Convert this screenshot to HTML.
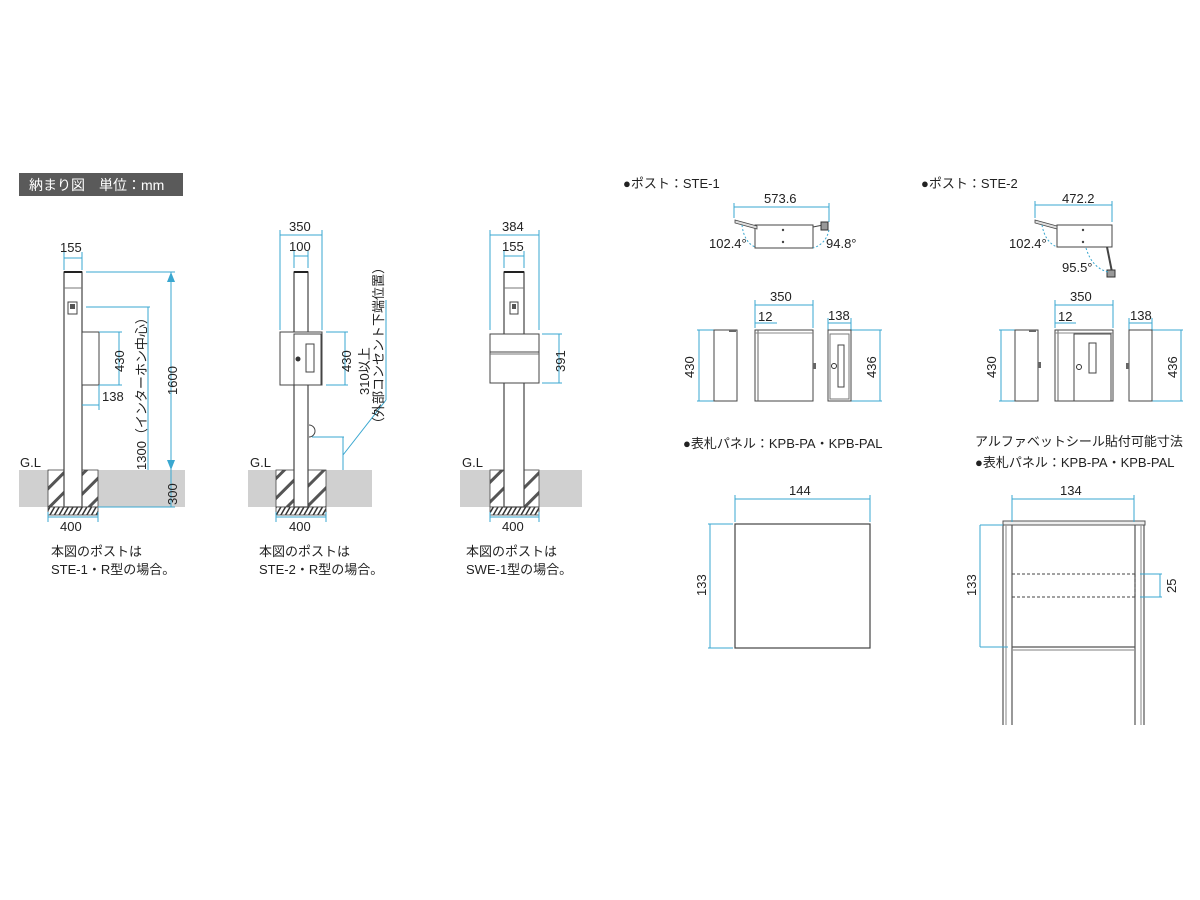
<!DOCTYPE html>
<html><head><meta charset="utf-8"><style>
html,body{margin:0;padding:0;background:#fff;}
svg{display:block;font-family:"Liberation Sans","Noto Sans CJK JP",sans-serif;}
</style></head><body>
<svg width="1200" height="900" viewBox="0 0 1200 900" xmlns="http://www.w3.org/2000/svg">
<defs>
<pattern id="h" width="14" height="14" patternUnits="userSpaceOnUse" patternTransform="rotate(45)">
<rect width="14" height="14" fill="#fff"/><rect x="0" width="3" height="14" fill="#555"/></pattern>
<pattern id="hb" width="4" height="8" patternUnits="userSpaceOnUse" patternTransform="rotate(30)">
<rect width="4" height="8" fill="#fff"/><rect width="1.5" height="8" fill="#333"/></pattern>
</defs>
<g font-size="13" fill="#222">
<!-- title -->
<rect x="19" y="173" width="164" height="23" fill="#5a5a5a"/>
<text x="29" y="190" fill="#fff" font-size="14">納まり図　単位：mm</text>

<!-- ============ POST 1 ============ -->
<rect x="19" y="470" width="166" height="37" fill="#d0d0d0"/>
<rect x="48" y="470" width="50" height="37" fill="url(#h)" stroke="#444" stroke-width="0.8"/>
<rect x="48" y="507" width="50" height="8" fill="url(#hb)" stroke="#444" stroke-width="0.8"/>
<rect x="64" y="272" width="18" height="235" fill="#fff" stroke="#444" stroke-width="1.2"/>
<line x1="64" y1="272" x2="82" y2="272" stroke="#222" stroke-width="2"/>
<line x1="64" y1="288" x2="82" y2="288" stroke="#777"/>
<rect x="68" y="302" width="9" height="12" fill="#fff" stroke="#444"/>
<rect x="70" y="304" width="5" height="5" fill="#555"/>
<rect x="82" y="332" width="17" height="53" fill="#fff" stroke="#444"/>
<text x="20" y="467">G.L</text>
<g stroke="#3aa7d0" fill="none" stroke-width="1">
<line x1="64" y1="258" x2="82" y2="258"/><line x1="64" y1="252" x2="64" y2="270"/><line x1="82" y1="252" x2="82" y2="270"/>
<line x1="86" y1="272" x2="175" y2="272"/><line x1="171" y1="272" x2="171" y2="507"/>
<line x1="86" y1="307" x2="150" y2="307"/><line x1="148" y1="307" x2="148" y2="470"/>
<line x1="99" y1="332" x2="122" y2="332"/><line x1="99" y1="385" x2="122" y2="385"/><line x1="119" y1="332" x2="119" y2="385"/>
<line x1="82" y1="405" x2="99" y2="405"/><line x1="99" y1="385" x2="99" y2="410"/>
<line x1="98" y1="507" x2="175" y2="507"/>
<line x1="48" y1="517" x2="98" y2="517"/><line x1="48" y1="512" x2="48" y2="522"/><line x1="98" y1="512" x2="98" y2="522"/>
</g>
<polygon points="171,272 167,282 175,282" fill="#3aa7d0"/>
<polygon points="171,470 167,460 175,460" fill="#3aa7d0"/>
<text x="60" y="252">155</text>
<text x="102" y="401">138</text>
<text transform="translate(124,372) rotate(-90)">430</text>
<text transform="translate(146,470) rotate(-90)">1300（インターホン中心）</text>
<text transform="translate(177,395) rotate(-90)">1600</text>
<text transform="translate(177,505) rotate(-90)">300</text>
<text x="60" y="531">400</text>
<text x="51" y="556">本図のポストは</text>
<text x="51" y="574">STE-1・R型の場合。</text>

<!-- ============ POST 2 ============ -->
<rect x="248" y="470" width="124" height="37" fill="#d0d0d0"/>
<rect x="276" y="470" width="50" height="37" fill="url(#h)" stroke="#444" stroke-width="0.8"/>
<rect x="276" y="507" width="50" height="8" fill="url(#hb)" stroke="#444" stroke-width="0.8"/>
<rect x="294" y="272" width="14" height="235" fill="#fff" stroke="#444" stroke-width="1.2"/>
<line x1="294" y1="272" x2="308" y2="272" stroke="#222" stroke-width="2"/>
<rect x="280" y="332" width="42" height="53" fill="#fff" stroke="#444"/>
<rect x="294" y="334" width="27" height="51" fill="#fff" stroke="#444"/>
<rect x="306" y="344" width="8" height="28" fill="#fff" stroke="#444"/>
<circle cx="298" cy="359" r="2.5" fill="#333"/>
<path d="M309,425 A6,6 0 0 1 309,437" fill="#fff" stroke="#444"/>
<text x="250" y="467">G.L</text>
<g stroke="#3aa7d0" fill="none">
<line x1="280" y1="235" x2="322" y2="235"/><line x1="280" y1="230" x2="280" y2="330"/><line x1="322" y1="230" x2="322" y2="330"/>
<line x1="294" y1="256" x2="308" y2="256"/><line x1="294" y1="251" x2="294" y2="268"/><line x1="308" y1="251" x2="308" y2="268"/>
<line x1="326" y1="332" x2="348" y2="332"/><line x1="326" y1="385" x2="348" y2="385"/><line x1="345" y1="332" x2="345" y2="385"/>
<line x1="312" y1="437" x2="344" y2="437"/><line x1="343" y1="437" x2="343" y2="470"/>
<line x1="343" y1="455" x2="386" y2="400"/><line x1="386" y1="400" x2="386" y2="300"/>
<line x1="276" y1="517" x2="326" y2="517"/><line x1="276" y1="512" x2="276" y2="522"/><line x1="326" y1="512" x2="326" y2="522"/>
</g>
<text x="289" y="231">350</text>
<text x="289" y="251">100</text>
<text transform="translate(351,372) rotate(-90)">430</text>
<text transform="translate(369,395) rotate(-90)">310以上</text>
<text transform="translate(383,430) rotate(-90)">（外部コンセント下端位置）</text>
<text x="289" y="531">400</text>
<text x="259" y="556">本図のポストは</text>
<text x="259" y="574">STE-2・R型の場合。</text>

<!-- ============ POST 3 ============ -->
<rect x="460" y="470" width="122" height="37" fill="#d0d0d0"/>
<rect x="490" y="470" width="49" height="37" fill="url(#h)" stroke="#444" stroke-width="0.8"/>
<rect x="490" y="507" width="49" height="8" fill="url(#hb)" stroke="#444" stroke-width="0.8"/>
<rect x="504" y="272" width="20" height="235" fill="#fff" stroke="#444" stroke-width="1.2"/>
<line x1="504" y1="272" x2="524" y2="272" stroke="#222" stroke-width="2"/>
<line x1="504" y1="288" x2="524" y2="288" stroke="#777"/>
<rect x="510" y="302" width="8" height="12" fill="#fff" stroke="#444"/>
<rect x="512" y="304" width="4" height="5" fill="#555"/>
<rect x="490" y="334" width="49" height="49" fill="#fff" stroke="#444"/>
<line x1="490" y1="352" x2="539" y2="352" stroke="#444"/><line x1="490" y1="354" x2="539" y2="354" stroke="#777"/>
<text x="462" y="467">G.L</text>
<g stroke="#3aa7d0" fill="none">
<line x1="490" y1="235" x2="539" y2="235"/><line x1="490" y1="230" x2="490" y2="330"/><line x1="539" y1="230" x2="539" y2="330"/>
<line x1="504" y1="256" x2="524" y2="256"/><line x1="504" y1="251" x2="504" y2="268"/><line x1="524" y1="251" x2="524" y2="268"/>
<line x1="542" y1="334" x2="562" y2="334"/><line x1="542" y1="383" x2="562" y2="383"/><line x1="559" y1="334" x2="559" y2="383"/>
<line x1="490" y1="517" x2="539" y2="517"/><line x1="490" y1="512" x2="490" y2="522"/><line x1="539" y1="512" x2="539" y2="522"/>
</g>
<text x="502" y="231">384</text>
<text x="502" y="251">155</text>
<text transform="translate(565,372) rotate(-90)">391</text>
<text x="502" y="531">400</text>
<text x="466" y="556">本図のポストは</text>
<text x="466" y="574">SWE-1型の場合。</text>

<!-- ============ STE-1 ============ -->
<text x="623" y="188">●ポスト：STE-1</text>
<rect x="755" y="225" width="58" height="23" fill="#fff" stroke="#444"/>
<circle cx="783" cy="230" r="1.2" fill="#444"/><circle cx="783" cy="242" r="1.2" fill="#444"/>
<path d="M735,220 L757,226 L757,229 L735,223 Z" fill="#ddd" stroke="#444" stroke-width="0.8"/>
<path d="M813,227 L823,225" stroke="#444"/>
<rect x="821" y="222" width="7" height="8" fill="#999" stroke="#333"/>
<g stroke="#3aa7d0" fill="none">
<line x1="734" y1="207" x2="829" y2="207"/><line x1="734" y1="203" x2="734" y2="218"/><line x1="829" y1="203" x2="829" y2="222"/>
<path d="M742,225 Q744,242 755,247" stroke-dasharray="2,2"/>
<path d="M829,230 Q826,244 813,248" stroke-dasharray="2,2"/>
<line x1="755" y1="305" x2="813" y2="305"/><line x1="755" y1="300" x2="755" y2="328"/><line x1="813" y1="300" x2="813" y2="328"/>
<line x1="755" y1="323" x2="777" y2="323"/>
<line x1="697" y1="330" x2="714" y2="330"/><line x1="697" y1="401" x2="714" y2="401"/><line x1="699" y1="330" x2="699" y2="401"/>
<line x1="828" y1="323" x2="851" y2="323"/><line x1="828" y1="318" x2="828" y2="330"/><line x1="851" y1="318" x2="851" y2="330"/>
<line x1="851" y1="330" x2="882" y2="330"/><line x1="851" y1="401" x2="882" y2="401"/><line x1="880" y1="330" x2="880" y2="401"/>
</g>
<text x="764" y="203">573.6</text>
<text x="709" y="248">102.4°</text>
<text x="826" y="248">94.8°</text>
<rect x="714" y="330" width="23" height="71" fill="#fff" stroke="#444"/>
<rect x="729" y="330" width="7" height="2" fill="#666"/>
<rect x="755" y="330" width="58" height="71" fill="#fff" stroke="#444"/>
<line x1="758" y1="330" x2="758" y2="401" stroke="#666"/>
<line x1="755" y1="333" x2="813" y2="333" stroke="#888"/>
<rect x="813" y="363" width="3" height="6" fill="#666"/>
<rect x="828" y="330" width="23" height="71" fill="#fff" stroke="#444"/>
<rect x="830" y="334" width="19" height="65" fill="#fff" stroke="#777"/>
<rect x="838" y="345" width="6" height="42" fill="#fff" stroke="#444"/>
<circle cx="834" cy="366" r="2.5" fill="#fff" stroke="#333"/>
<text x="770" y="301">350</text>
<text x="758" y="321">12</text>
<text x="828" y="320">138</text>
<text transform="translate(694,378) rotate(-90)">430</text>
<text transform="translate(876,378) rotate(-90)">436</text>

<!-- ============ STE-2 ============ -->
<text x="921" y="188">●ポスト：STE-2</text>
<rect x="1057" y="225" width="55" height="22" fill="#fff" stroke="#444"/>
<circle cx="1083" cy="230" r="1.2" fill="#444"/><circle cx="1083" cy="242" r="1.2" fill="#444"/>
<path d="M1035,220 L1057,226 L1057,229 L1035,223 Z" fill="#ddd" stroke="#444" stroke-width="0.8"/>
<path d="M1107,247 L1112,272" stroke="#444" stroke-width="2"/>
<rect x="1107" y="270" width="8" height="7" fill="#999" stroke="#333"/>
<g stroke="#3aa7d0" fill="none">
<line x1="1035" y1="205" x2="1112" y2="205"/><line x1="1035" y1="201" x2="1035" y2="218"/><line x1="1112" y1="201" x2="1112" y2="222"/>
<path d="M1042,225 Q1045,242 1057,247" stroke-dasharray="2,2"/>
<path d="M1086,248 Q1092,268 1108,272" stroke-dasharray="2,2"/>
<line x1="1055" y1="305" x2="1113" y2="305"/><line x1="1055" y1="300" x2="1055" y2="328"/><line x1="1113" y1="300" x2="1113" y2="328"/>
<line x1="1055" y1="323" x2="1076" y2="323"/>
<line x1="999" y1="330" x2="1015" y2="330"/><line x1="999" y1="401" x2="1015" y2="401"/><line x1="1001" y1="330" x2="1001" y2="401"/>
<line x1="1129" y1="323" x2="1152" y2="323"/><line x1="1129" y1="318" x2="1129" y2="330"/><line x1="1152" y1="318" x2="1152" y2="330"/>
<line x1="1152" y1="330" x2="1183" y2="330"/><line x1="1152" y1="401" x2="1183" y2="401"/><line x1="1181" y1="330" x2="1181" y2="401"/>
</g>
<text x="1062" y="203">472.2</text>
<text x="1009" y="248">102.4°</text>
<text x="1062" y="272">95.5°</text>
<rect x="1015" y="330" width="23" height="71" fill="#fff" stroke="#444"/>
<rect x="1029" y="330" width="7" height="2" fill="#666"/>
<rect x="1038" y="362" width="3" height="6" fill="#666"/>
<rect x="1055" y="330" width="58" height="71" fill="#fff" stroke="#444"/>
<line x1="1058" y1="330" x2="1058" y2="401" stroke="#666"/>
<line x1="1055" y1="333" x2="1113" y2="333" stroke="#888"/>
<rect x="1074" y="334" width="37" height="67" fill="#fff" stroke="#444"/>
<rect x="1089" y="343" width="7" height="30" fill="#fff" stroke="#444"/>
<circle cx="1079" cy="367" r="2.5" fill="#fff" stroke="#333"/>
<rect x="1129" y="330" width="23" height="71" fill="#fff" stroke="#444"/>
<rect x="1126" y="363" width="3" height="6" fill="#666"/>
<text x="1070" y="301">350</text>
<text x="1058" y="321">12</text>
<text x="1130" y="320">138</text>
<text transform="translate(996,378) rotate(-90)">430</text>
<text transform="translate(1177,378) rotate(-90)">436</text>

<!-- ============ PANEL 1 ============ -->
<text x="683" y="448">●表札パネル：KPB-PA・KPB-PAL</text>
<rect x="735" y="524" width="135" height="124" fill="#fff" stroke="#444" stroke-width="1.2"/>
<g stroke="#3aa7d0" fill="none">
<line x1="735" y1="499" x2="870" y2="499"/><line x1="735" y1="495" x2="735" y2="522"/><line x1="870" y1="495" x2="870" y2="522"/>
<line x1="708" y1="524" x2="733" y2="524"/><line x1="708" y1="648" x2="733" y2="648"/><line x1="710" y1="524" x2="710" y2="648"/>
</g>
<text x="789" y="495">144</text>
<text transform="translate(706,596) rotate(-90)">133</text>

<!-- ============ PANEL 2 ============ -->
<text x="975" y="446">アルファベットシール貼付可能寸法</text>
<text x="975" y="467">●表札パネル：KPB-PA・KPB-PAL</text>
<rect x="1003" y="521" width="142" height="4" fill="#eee" stroke="#555"/>
<g stroke="#555" fill="none" stroke-width="1.2">
<line x1="1003" y1="525" x2="1003" y2="725"/><line x1="1006" y1="525" x2="1006" y2="725" stroke="#999"/>
<line x1="1012" y1="525" x2="1012" y2="725"/>
<line x1="1135" y1="525" x2="1135" y2="725"/>
<line x1="1141" y1="525" x2="1141" y2="725" stroke="#999"/><line x1="1144" y1="525" x2="1144" y2="725"/>
<line x1="1012" y1="647" x2="1135" y2="647"/><line x1="1012" y1="650" x2="1135" y2="650" stroke="#999"/>
</g>
<g stroke="#444" fill="none" stroke-dasharray="3,2">
<line x1="1012" y1="574" x2="1135" y2="574"/><line x1="1012" y1="597" x2="1135" y2="597"/><line x1="1135" y1="574" x2="1135" y2="597"/>
</g>
<g stroke="#3aa7d0" fill="none">
<line x1="1012" y1="499" x2="1134" y2="499"/><line x1="1012" y1="495" x2="1012" y2="522"/><line x1="1134" y1="495" x2="1134" y2="522"/>
<line x1="980" y1="525" x2="1003" y2="525"/><line x1="980" y1="647" x2="1008" y2="647"/><line x1="980" y1="525" x2="980" y2="647"/>
<line x1="1140" y1="574" x2="1162" y2="574"/><line x1="1140" y1="597" x2="1162" y2="597"/><line x1="1160" y1="574" x2="1160" y2="597"/>
</g>
<text x="1060" y="495">134</text>
<text transform="translate(976,596) rotate(-90)">133</text>
<text transform="translate(1176,593) rotate(-90)">25</text>
</g>
</svg>
</body></html>
